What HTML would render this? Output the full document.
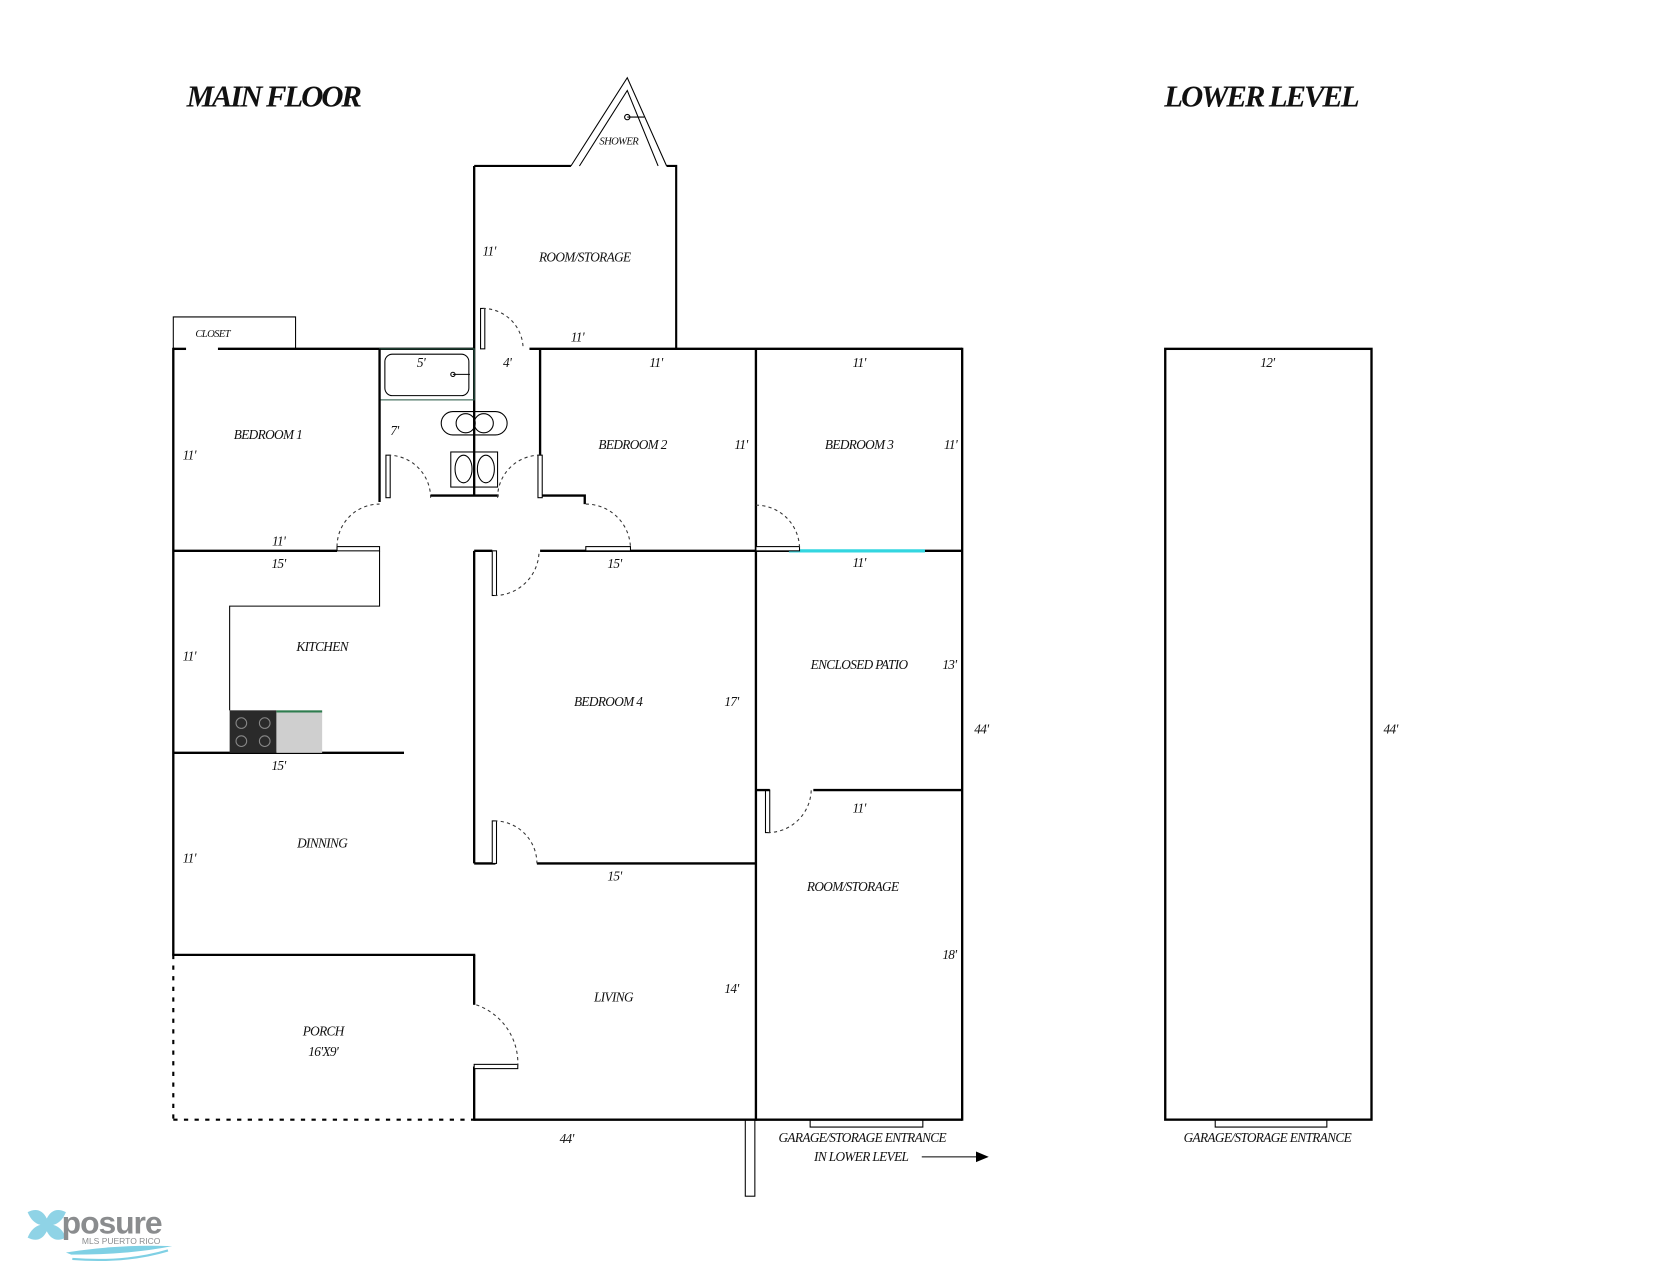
<!DOCTYPE html>
<html><head><meta charset="utf-8"><style>
html,body{margin:0;padding:0;background:#fff;}
svg{display:block;}
text{font-family:"Liberation Serif",serif;font-style:italic;fill:#111;}
.l{font-size:12.5px;text-anchor:middle;letter-spacing:-0.6px;}
.w{stroke:#000;stroke-width:2.2;fill:none;}
.t{stroke:#000;stroke-width:1;fill:none;}
.d{stroke:#333;stroke-width:1;fill:none;stroke-dasharray:3,3;}
.leaf{stroke:#000;stroke-width:1;fill:#fff;}
</style></head><body>
<svg width="1666" height="1275" viewBox="0 0 1567 1199" xmlns="http://www.w3.org/2000/svg">
<rect width="1567" height="1199" fill="#fff"/>
<text x="257" y="100" style="font-size:29px;font-weight:bold;text-anchor:middle;letter-spacing:-2px">MAIN FLOOR</text>
<text x="1186" y="100" style="font-size:29px;font-weight:bold;text-anchor:middle;letter-spacing:-2px">LOWER LEVEL</text>

<!-- shower -->
<polyline class="t" points="537,156 590,73 627,156"/>
<polyline class="t" points="545,156 590,85 619,156"/>
<line class="t" x1="590" y1="110" x2="606" y2="110"/>
<circle cx="590" cy="110" r="2.5" class="t"/>
<text x="582" y="136" class="l" style="font-size:10px">SHOWER</text>

<!-- room/storage upper -->
<polyline class="t" points="537,156 446,156" style="stroke-width:2"/>
<polyline class="t" points="627,156 636,156 636,328" style="stroke-width:2"/>
<line class="w" x1="446" y1="156" x2="446" y2="465"/>

<!-- closet -->
<polyline class="t" points="163,328 163,298 278,298 278,328"/>

<!-- outer walls -->
<line class="w" x1="163" y1="328" x2="175" y2="328"/>
<line class="w" x1="205" y1="328" x2="446" y2="328"/>
<line class="w" x1="498" y1="328" x2="905" y2="328"/>
<line class="w" x1="163" y1="327" x2="163" y2="898"/>
<line class="w" x1="905" y1="327" x2="905" y2="1054"/>
<line class="w" x1="446" y1="1053" x2="905" y2="1053"/>
<line class="w" x1="162" y1="898" x2="447" y2="898"/>
<line class="w" x1="446" y1="898" x2="446" y2="945"/>
<line class="w" x1="446" y1="1003" x2="446" y2="1054"/>
<line x1="163" y1="898" x2="163" y2="1053" stroke="#000" stroke-width="2" stroke-dasharray="4,6"/>
<line x1="163" y1="1053" x2="446" y2="1053" stroke="#000" stroke-width="2" stroke-dasharray="4,6"/>

<!-- bathroom -->
<rect x="357" y="328" width="89" height="48" fill="none" stroke="#2e5b4a" stroke-width="1"/>
<rect x="362" y="333" width="79" height="39" rx="7" class="t"/>
<line class="t" x1="426" y1="352" x2="442" y2="352"/><circle cx="426" cy="352" r="2" class="t"/>
<rect x="415" y="387" width="62" height="22" rx="11" class="t"/>
<ellipse cx="438" cy="398" rx="9" ry="9" class="t"/><ellipse cx="455" cy="398" rx="9" ry="9" class="t"/>
<rect x="424" y="425" width="44" height="33" class="t"/>
<ellipse cx="436" cy="441" rx="8" ry="13" class="t"/><ellipse cx="457" cy="441" rx="8" ry="13" class="t"/>
<line class="w" x1="357" y1="328" x2="357" y2="472"/>
<line class="w" x1="405" y1="466" x2="469" y2="466"/>

<!-- hall right -->
<polyline class="w" points="508,328 508,466 550,466 550,474"/>

<!-- bedroom1 bottom -->
<line class="w" x1="163" y1="518" x2="317" y2="518"/>
<!-- kitchen -->
<polyline class="t" points="357,518 357,570 216,570 216,668"/>
<line class="w" x1="163" y1="708" x2="380" y2="708"/>
<rect x="216" y="668" width="44" height="40" fill="#2a2a2a"/>
<circle cx="227" cy="680" r="5" fill="none" stroke="#888"/><circle cx="249" cy="680" r="5" fill="none" stroke="#888"/>
<circle cx="227" cy="697" r="5" fill="none" stroke="#888"/><circle cx="249" cy="697" r="5" fill="none" stroke="#888"/>
<rect x="260" y="668" width="43" height="40" fill="#cfcfcf"/>
<line x1="260" y1="669" x2="303" y2="669" stroke="#2e7d4f" stroke-width="2"/>

<!-- middle walls -->
<line class="w" x1="508" y1="518" x2="905" y2="518"/>
<line x1="742" y1="518" x2="870" y2="518" stroke="#33d6e0" stroke-width="3"/>
<line class="w" x1="446" y1="518" x2="446" y2="812"/>
<line class="w" x1="446" y1="518" x2="463" y2="518"/>
<line class="w" x1="711" y1="328" x2="711" y2="1054"/>
<line class="w" x1="505" y1="812" x2="711" y2="812"/>
<line class="w" x1="446" y1="812" x2="466" y2="812"/>
<line class="w" x1="765" y1="743" x2="905" y2="743"/>

<!-- doors -->
<rect class="leaf" x="452" y="290" width="4" height="38"/><path class="d" d="M454,290 A38,38 0 0 1 492,328"/>
<rect class="leaf" x="317" y="514" width="40" height="4"/><path class="d" d="M317,514 A40,40 0 0 1 357,474"/>
<rect class="leaf" x="363" y="428" width="4" height="40"/><path class="d" d="M365,428 A40,40 0 0 1 405,468"/>
<rect class="leaf" x="506" y="428" width="4" height="40"/><path class="d" d="M508,428 A40,40 0 0 0 468,468"/>
<rect class="leaf" x="551" y="514" width="42" height="4"/><path class="d" d="M551,474 A42,42 0 0 1 593,516"/>
<rect class="leaf" x="711" y="514" width="41" height="4"/><path class="d" d="M711,475 A41,41 0 0 1 752,516"/>
<rect class="leaf" x="463" y="518" width="4" height="42"/><path class="d" d="M465,560 A42,42 0 0 0 507,518"/>
<rect class="leaf" x="463" y="772" width="4" height="40"/><path class="d" d="M465,772 A40,40 0 0 1 505,812"/>
<rect class="leaf" x="720" y="743" width="4" height="40"/><path class="d" d="M722,783 A41,41 0 0 0 763,743"/>
<line class="w" x1="711" y1="743" x2="724" y2="743"/>
<rect class="leaf" x="446" y="1001" width="41" height="4"/><path class="d" d="M448,945 A58,58 0 0 1 487,1003"/>

<!-- garage entrance & post -->
<polyline class="t" points="762,1053 762,1060 868,1060 868,1053"/>
<rect x="701" y="1053" width="9" height="72" class="t"/>
<line class="t" x1="867" y1="1088" x2="920" y2="1088"/>
<polygon points="930,1088 918,1083 918,1093" fill="#000"/>

<!-- lower level -->
<rect x="1096" y="328" width="194" height="725" class="w"/>
<polyline class="t" points="1143,1053 1143,1060 1248,1060 1248,1053"/>

<!-- labels -->
<text x="200" y="317" class="l" style="font-size:10px">CLOSET</text>
<text x="460" y="240" class="l">11'</text>
<text x="550" y="246" class="l">ROOM/STORAGE</text>
<text x="543" y="321" class="l">11'</text>
<text x="396" y="345" class="l">5'</text>
<text x="477" y="345" class="l">4'</text>
<text x="371" y="409" class="l">7'</text>
<text x="252" y="413" class="l">BEDROOM 1</text>
<text x="178" y="432" class="l">11'</text>
<text x="262" y="513" class="l">11'</text>
<text x="595" y="422" class="l">BEDROOM 2</text>
<text x="617" y="345" class="l">11'</text>
<text x="697" y="422" class="l">11'</text>
<text x="808" y="422" class="l">BEDROOM 3</text>
<text x="808" y="345" class="l">11'</text>
<text x="894" y="422" class="l">11'</text>
<text x="262" y="534" class="l">15'</text>
<text x="578" y="534" class="l">15'</text>
<text x="808" y="533" class="l">11'</text>
<text x="303" y="612" class="l">KITCHEN</text>
<text x="178" y="621" class="l">11'</text>
<text x="808" y="629" class="l">ENCLOSED PATIO</text>
<text x="893" y="629" class="l">13'</text>
<text x="572" y="664" class="l">BEDROOM 4</text>
<text x="688" y="664" class="l">17'</text>
<text x="923" y="690" class="l">44'</text>
<text x="262" y="724" class="l">15'</text>
<text x="808" y="764" class="l">11'</text>
<text x="303" y="797" class="l">DINNING</text>
<text x="178" y="811" class="l">11'</text>
<text x="578" y="828" class="l">15'</text>
<text x="802" y="838" class="l">ROOM/STORAGE</text>
<text x="893" y="902" class="l">18'</text>
<text x="577" y="942" class="l">LIVING</text>
<text x="688" y="934" class="l">14'</text>
<text x="304" y="974" class="l">PORCH</text>
<text x="304" y="993" class="l">16'X9'</text>
<text x="533" y="1075" class="l">44'</text>
<text x="811" y="1074" class="l">GARAGE/STORAGE ENTRANCE</text>
<text x="810" y="1092" class="l">IN LOWER LEVEL</text>
<text x="1192" y="345" class="l">12'</text>
<text x="1308" y="690" class="l">44'</text>
<text x="1192" y="1074" class="l">GARAGE/STORAGE ENTRANCE</text>

<!-- logo -->
<g>
<path d="M26,1140 q12,-6 18,6 q6,-12 18,-6 q-4,10 -12,12 q8,2 12,12 q-12,6 -18,-6 q-6,12 -18,6 q4,-10 12,-12 q-8,-2 -12,-12z" fill="#8fd3e6"/>
<text x="58" y="1160" style="font-family:'Liberation Sans',sans-serif;font-style:normal;font-weight:bold;font-size:30px;fill:#8a8c8e;letter-spacing:-1px">posure</text>
<text x="77" y="1170" style="font-family:'Liberation Sans',sans-serif;font-style:normal;font-size:8px;fill:#8a8c8e">MLS PUERTO RICO</text>
<path d="M62,1178 q50,-8 100,-6 q-40,8 -95,8z" fill="#7fd0e4"/>
<path d="M68,1184 q50,4 90,-8" stroke="#7fd0e4" stroke-width="2" fill="none"/>
</g>
</svg>
</body></html>
